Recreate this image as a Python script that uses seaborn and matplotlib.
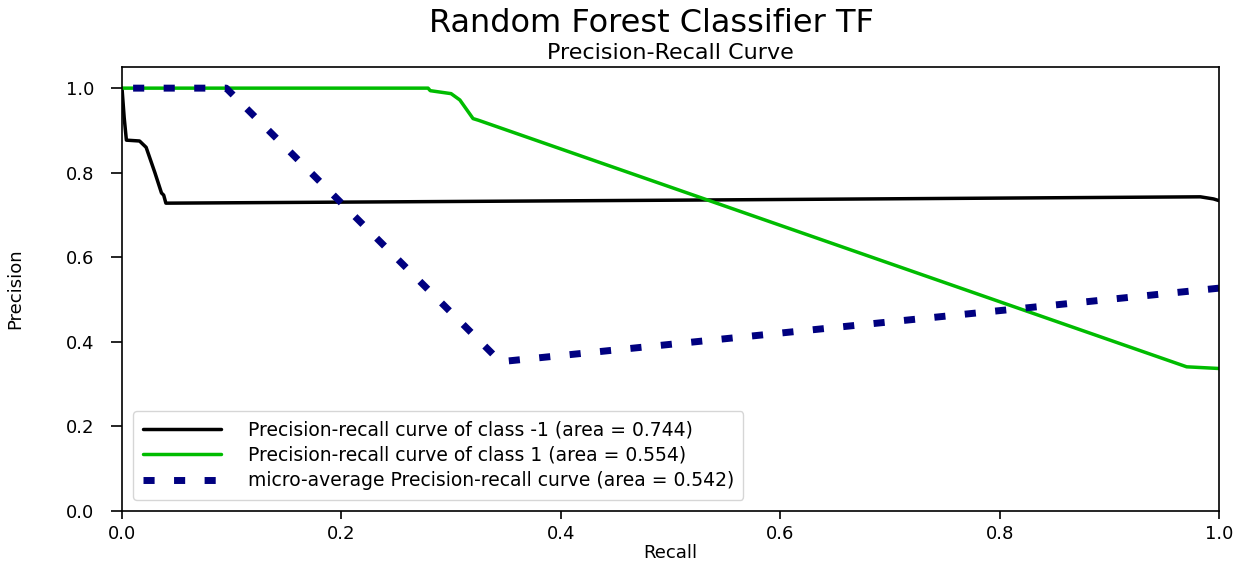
import numpy as np
import pandas as pd
import matplotlib
matplotlib.use("Agg")
import matplotlib.pyplot as plt
import seaborn as sns

# Precision-recall curve points (recall, precision) per class
recall_neg = [0.0, 0.002, 0.004, 0.016, 0.022, 0.030, 0.036, 0.038, 0.040, 0.50, 0.983, 0.995, 1.0]
precision_neg = [1.0, 0.93, 0.877, 0.875, 0.86, 0.80, 0.752, 0.747, 0.728, 0.735, 0.743, 0.738, 0.734]

recall_pos = [0.0, 0.279, 0.281, 0.300, 0.308, 0.320, 0.325, 0.9705, 1.0]
precision_pos = [1.0, 1.0, 0.994, 0.987, 0.972, 0.928, 0.924, 0.341, 0.337]

recall_micro = [0.0, 0.095, 0.345, 1.0]
precision_micro = [1.0, 1.0, 0.353, 0.527]

labels = [
    "Precision-recall curve of class -1 (area = 0.744)",
    "Precision-recall curve of class 1 (area = 0.554)",
    "micro-average Precision-recall curve (area = 0.542)",
]
suptitle_text = "Random Forest Classifier TF"
title_text = "Precision-Recall Curve"
x_ticks = [0.0, 0.2, 0.4, 0.6, 0.8, 1.0]
y_ticks = [0.0, 0.2, 0.4, 0.6, 0.8, 1.0]

sns.set_style("ticks")
plt.rcParams["font.family"] = ["DejaVu Sans"]
plt.rcParams["text.color"] = "black"
plt.rcParams["axes.labelcolor"] = "black"
plt.rcParams["xtick.color"] = "black"
plt.rcParams["ytick.color"] = "black"
plt.rcParams["axes.edgecolor"] = "black"

fig = plt.figure(figsize=(12.53, 5.61), dpi=100)
ax = fig.add_axes([122 / 1253, 1 - 511 / 561, (1219 - 122) / 1253, (511 - 67) / 561])

cmap = plt.get_cmap("nipy_spectral")
neg_df = pd.DataFrame({"recall": recall_neg, "precision": precision_neg})
pos_df = pd.DataFrame({"recall": recall_pos, "precision": precision_pos})
micro_df = pd.DataFrame({"recall": recall_micro, "precision": precision_micro})

sns.lineplot(data=neg_df, x="recall", y="precision", sort=False, estimator=None,
             color=cmap(0.0), lw=2.5, label=labels[0], ax=ax)
sns.lineplot(data=pos_df, x="recall", y="precision", sort=False, estimator=None,
             color=cmap(0.5), lw=2.5, label=labels[1], ax=ax)
sns.lineplot(data=micro_df.iloc[::-1], x="recall", y="precision", sort=False, estimator=None,
             color="navy", lw=5, dashes=False, label=labels[2], ax=ax)
ax.lines[-1].set_dashes((1.6, 2.8))

ax.set_xlim(0.0, 1.0)
ax.set_ylim(0.0, 1.05)
ax.set_xticks(x_ticks)
ax.set_yticks(y_ticks)
ax.tick_params(axis="x", labelsize=13, length=6, width=1.2, pad=4)
ax.tick_params(axis="y", labelsize=13, length=8, width=1.2, pad=12)
for s in ax.spines.values():
    s.set_visible(True)
    s.set_linewidth(1.2)

ax.set_xlabel("Recall", fontsize=13, labelpad=1)
ax.set_ylabel("Precision", fontsize=13, labelpad=30)
ax.set_title(title_text, fontsize=16, pad=6)
fig.suptitle(suptitle_text, fontsize=23, x=0.52, y=0.985)

leg = ax.legend(loc="lower left", fontsize=13.5, frameon=True, borderaxespad=0.6,
                handlelength=4.2, handletextpad=1.4, borderpad=0.5,
                labelspacing=0.35)
leg.get_frame().set_edgecolor("#cccccc")

fig.savefig("out.png", dpi=100, facecolor="white")
